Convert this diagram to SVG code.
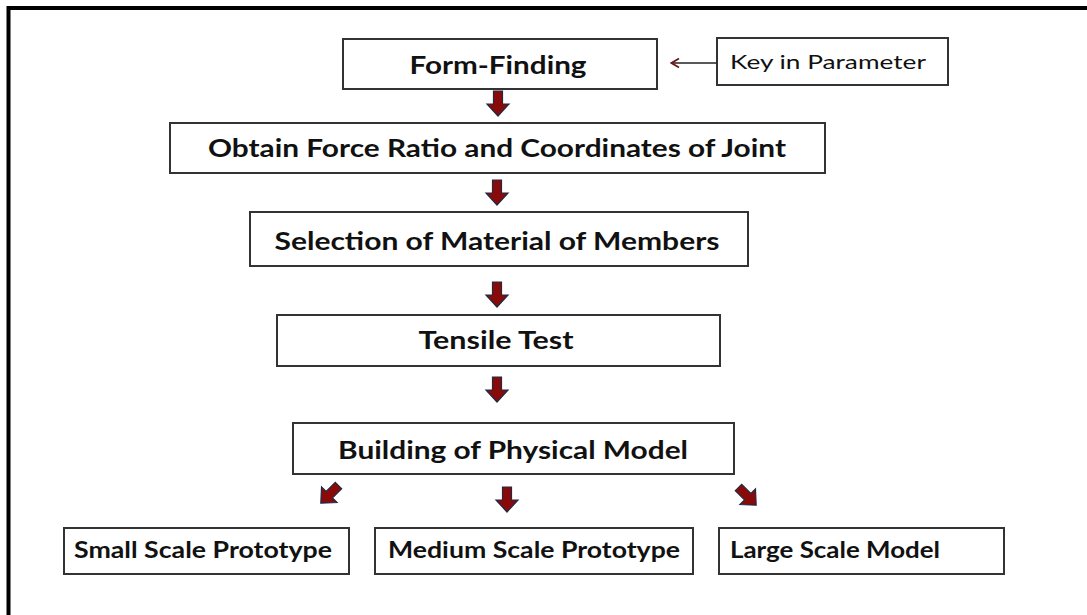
<svg xmlns="http://www.w3.org/2000/svg" width="1087" height="615" viewBox="0 0 1087 615">
  <defs>
    <style>
      .box { fill: #ffffff; stroke: #333333; stroke-width: 2; }
      .t { font-family: Lato, "Liberation Sans", sans-serif; font-weight: bold; font-size: 25px; fill: #111111; text-anchor: middle; }
      .ts { font-family: Lato, "Liberation Sans", sans-serif; font-weight: bold; font-size: 22px; fill: #111111; }
      .tk { font-family: Lato, "Liberation Sans", sans-serif; font-size: 20px; fill: #111111; }
      .blk { fill: #8a0a0a; stroke: #1f2a44; stroke-width: 1.2; stroke-linejoin: miter; }
    </style>
    <path id="darr" d="M -4.5 -12 L 4.5 -12 L 4.5 1 L 11 1 L 0 13 L -11 1 L -4.5 1 Z"/>
    <marker id="chev" viewBox="0 0 12 12" refX="11" refY="6" markerWidth="12" markerHeight="12" markerUnits="userSpaceOnUse" orient="auto">
      <path d="M 3 1.5 L 10.5 6 L 3 10.5" fill="none" stroke="#6b1a1a" stroke-width="1.8"/>
    </marker>
  </defs>
  <rect width="1087" height="615" fill="#ffffff"/>
  <g id="frame">
    <path d="M 8.5 615 L 8.5 8 L 1087 8" fill="none" stroke="#000000" stroke-width="4"/>
  </g>

  <g id="n-formfinding">
    <rect class="box" x="343" y="39" width="314" height="50"/>
    <text class="t" x="498" y="74" textLength="177" lengthAdjust="spacingAndGlyphs">Form-Finding</text>
  </g>
  <g id="n-key">
    <rect class="box" x="717" y="38" width="231" height="47"/>
    <text class="tk" x="730" y="69" textLength="196" lengthAdjust="spacingAndGlyphs">Key in Parameter</text>
  </g>
  <g id="n-obtain">
    <rect class="box" x="170" y="123" width="655" height="50"/>
    <text class="t" x="497" y="157" textLength="578" lengthAdjust="spacingAndGlyphs">Obtain Force Ratio and Coordinates of Joint</text>
  </g>
  <g id="n-selection">
    <rect class="box" x="250" y="212" width="498" height="54"/>
    <text class="t" x="497" y="250" textLength="445" lengthAdjust="spacingAndGlyphs">Selection of Material of Members</text>
  </g>
  <g id="n-tensile">
    <rect class="box" x="277" y="315" width="443" height="51"/>
    <text class="t" x="496" y="349" textLength="155" lengthAdjust="spacingAndGlyphs">Tensile Test</text>
  </g>
  <g id="n-building">
    <rect class="box" x="293" y="423" width="441" height="51"/>
    <text class="t" x="513" y="459" textLength="350" lengthAdjust="spacingAndGlyphs">Building of Physical Model</text>
  </g>
  <g id="n-small">
    <rect class="box" x="64" y="528" width="285" height="46"/>
    <text class="ts" x="74" y="558" textLength="258" lengthAdjust="spacingAndGlyphs">Small  Scale Prototype</text>
  </g>
  <g id="n-medium">
    <rect class="box" x="375" y="528" width="318" height="46"/>
    <text class="ts" x="388" y="558" textLength="292" lengthAdjust="spacingAndGlyphs">Medium Scale Prototype</text>
  </g>
  <g id="n-large">
    <rect class="box" x="719" y="528" width="285" height="46"/>
    <text class="ts" x="730" y="558" textLength="210" lengthAdjust="spacingAndGlyphs">Large Scale Model</text>
  </g>

  <g id="connectors">
    <line x1="717" y1="63" x2="671" y2="63" stroke="#222222" stroke-width="1.6" marker-end="url(#chev)"/>
    <use href="#darr" class="blk" transform="translate(498,103)"/>
    <use href="#darr" class="blk" transform="translate(497,192)"/>
    <use href="#darr" class="blk" transform="translate(497,294)"/>
    <use href="#darr" class="blk" transform="translate(497,389)"/>
    <use href="#darr" class="blk" transform="translate(330,494) rotate(45)"/>
    <use href="#darr" class="blk" transform="translate(507,499)"/>
    <use href="#darr" class="blk" transform="translate(747,496) rotate(-45)"/>
  </g>
</svg>
